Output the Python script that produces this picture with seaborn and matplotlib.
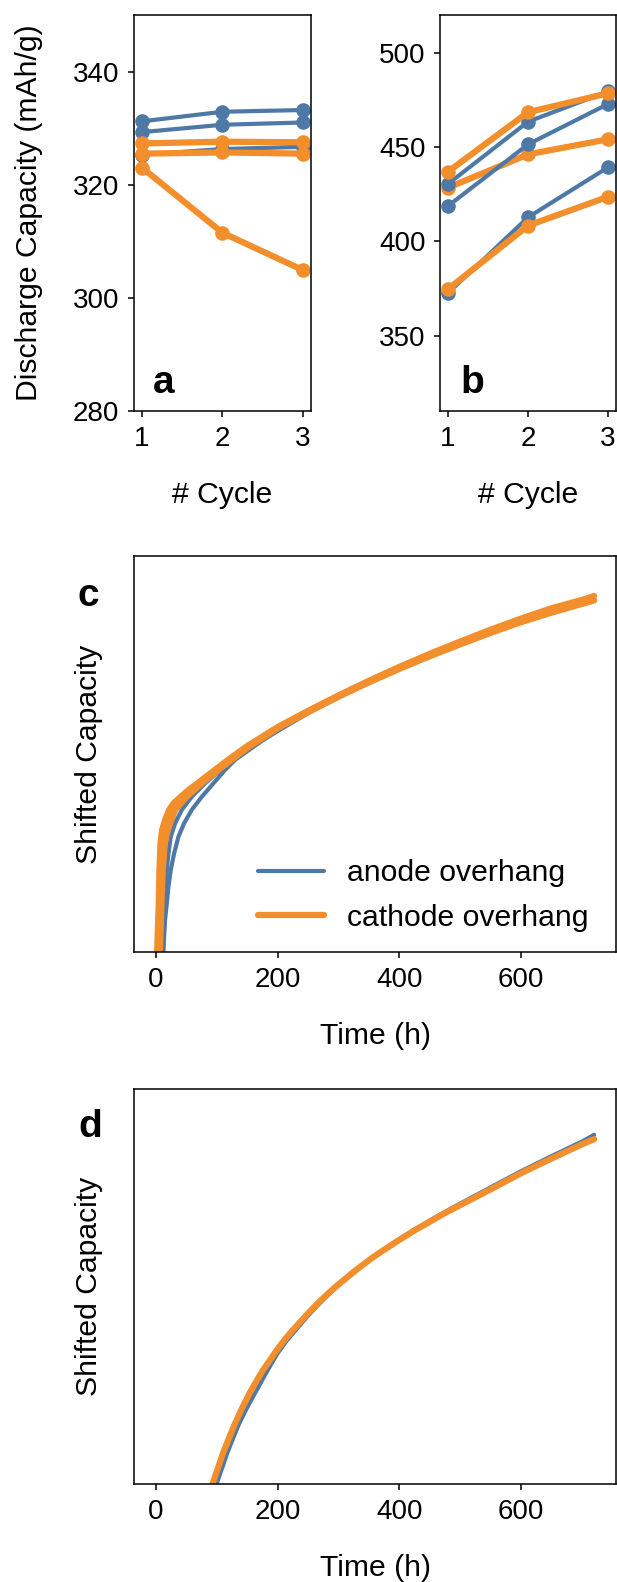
import matplotlib
matplotlib.use("Agg")
import matplotlib.pyplot as plt
import seaborn as sns

# ---- data -------------------------------------------------------------
cycles = [1, 2, 3]

# panel a: discharge capacity (mAh/g) per cell
a_anode = [[331.2, 332.9, 333.2], [329.3, 330.6, 331.0], [325.3, 326.3, 326.7]]
a_cathode = [[327.3, 327.6, 327.5], [325.5, 325.7, 325.5], [323.0, 311.5, 304.9]]

# panel b
b_anode = [[430.4, 463.4, 479.5], [418.7, 451.4, 472.8], [372.5, 412.7, 439.2]]
b_cathode = [[436.9, 468.4, 478.5], [428.4, 446.1, 454.1], [374.6, 408.3, 423.6]]

# panel c: shifted capacity vs time (h)
c_t_an1 = [8.6, 11.3, 14.0, 16.8, 20.6, 24.4, 31.6, 42.5, 58.9, 80.9, 100, 120, 150, 200,
           250, 300, 350, 400, 450, 500, 550, 600, 650, 700, 720]
c_q_an1 = [0.0, 0.081, 0.140, 0.190, 0.249, 0.291, 0.325, 0.359, 0.392, 0.426, 0.452, 0.478,
           0.511, 0.562, 0.606, 0.646, 0.683, 0.717, 0.750, 0.780, 0.810, 0.837, 0.862, 0.884, 0.892]
c_t_an2 = [12.4, 13.5, 15.1, 17.9, 20.6, 24.4, 29.9, 37.0, 46.3, 58.9, 75.4, 94.5, 113.7, 130,
           150, 175, 200, 250, 300, 350, 400, 450, 500, 550, 600, 650, 700, 720]
c_q_an2 = [0.0, 0.039, 0.081, 0.123, 0.165, 0.207, 0.249, 0.291, 0.325, 0.359, 0.392, 0.426,
           0.460, 0.485, 0.507, 0.534, 0.558, 0.603, 0.643, 0.680, 0.714, 0.746, 0.776, 0.805,
           0.832, 0.856, 0.878, 0.887]
c_t_cat1 = [2.0, 4.7, 5.8, 7.5, 10.2, 15.1, 21.7, 28.8, 40.9, 53.5, 68.3, 82.5, 97.3, 120,
            150, 200, 250, 300, 350, 400, 450, 500, 550, 600, 650, 700, 720]
c_q_cat1 = [0.0, 0.123, 0.207, 0.274, 0.308, 0.333, 0.359, 0.375, 0.392, 0.409, 0.426, 0.443,
            0.460, 0.487, 0.520, 0.568, 0.609, 0.648, 0.685, 0.720, 0.753, 0.784, 0.814, 0.842,
            0.868, 0.889, 0.899]
c_t_cat2 = [6.4, 9.1, 11.3, 14.0, 17.9, 23.3, 31.6, 50.7, 75.4, 102.8, 150, 200, 250, 300,
            350, 400, 450, 500, 550, 600, 650, 700, 720]
c_q_cat2 = [0.0, 0.123, 0.207, 0.266, 0.300, 0.325, 0.359, 0.392, 0.426, 0.460, 0.515, 0.565,
            0.606, 0.645, 0.681, 0.715, 0.747, 0.777, 0.806, 0.833, 0.857, 0.879, 0.888]

# panel d
d_t_an = [99.7, 105, 111, 116, 122, 129, 136, 148, 160, 170, 180, 190, 200, 215, 231, 250, 265,
          280, 295, 310, 325, 341, 355, 370, 385, 400, 425, 450, 475, 500, 550, 600, 650, 700, 720]
d_q_an = [0.0, 0.024, 0.050, 0.073, 0.097, 0.124, 0.150, 0.188, 0.222, 0.250, 0.278, 0.305,
          0.331, 0.363, 0.392, 0.426, 0.451, 0.474, 0.496, 0.516, 0.536, 0.556, 0.573, 0.589,
          0.605, 0.620, 0.644, 0.667, 0.689, 0.710, 0.751, 0.792, 0.830, 0.867, 0.884]
d_t_cat = [93, 99, 105, 110, 116, 123, 130, 142, 154, 165, 175, 188, 200, 215, 231, 250, 265,
           280, 295, 310, 325, 341, 355, 370, 385, 400, 425, 450, 475, 500, 550, 600, 650, 700, 720]
d_q_cat = [0.0, 0.027, 0.054, 0.077, 0.100, 0.127, 0.153, 0.193, 0.230, 0.260, 0.286, 0.315,
           0.342, 0.372, 0.400, 0.432, 0.456, 0.478, 0.499, 0.518, 0.537, 0.556, 0.572, 0.588,
           0.603, 0.618, 0.642, 0.664, 0.686, 0.706, 0.746, 0.787, 0.824, 0.860, 0.873]

legend_labels = ["anode overhang", "cathode overhang"]

# ---- style ------------------------------------------------------------
sns.set_style("ticks")
plt.rcParams['font.family'] = ['Liberation Sans', 'DejaVu Sans']
plt.rcParams.update({
    "font.size": 21.7,
    "axes.labelsize": 21.7,
    "xtick.labelsize": 20,
    "ytick.labelsize": 20,
    "axes.linewidth": 1.1,
    "axes.edgecolor": "black",
    "axes.labelcolor": "black",
    "text.color": "black",
    "xtick.major.size": 4.5,
    "ytick.major.size": 4.5,
    "xtick.major.width": 1.1,
    "ytick.major.width": 1.1,
    "xtick.major.pad": 6,
    "ytick.major.pad": 6,
    "xtick.color": "black",
    "ytick.color": "black",
})

BLUE = "#4e79a7"
ORANGE = "#f28e2b"
LW_AN, LW_CAT = 3.0, 4.5

W, H = 617, 1582
fig = plt.figure(figsize=(W / 100, H / 100), dpi=100)


def px_axes(l, t, r, b):
    return fig.add_axes([l / W, 1 - b / H, (r - l) / W, (b - t) / H])


ax_a = px_axes(134, 15, 311, 411)
ax_b = px_axes(440, 15, 616, 411)
ax_c = px_axes(134, 556, 616, 952)
ax_d = px_axes(134, 1089, 616, 1484)


def cyc_line(ax, vals, color, lw):
    sns.lineplot(x=cycles, y=vals, color=color, lw=lw, marker="o", markersize=10.5,
                 markeredgewidth=0, estimator=None, ax=ax)


# panel a: orange drawn above blue
for vals in a_anode:
    cyc_line(ax_a, vals, BLUE, LW_AN)
for vals in a_cathode:
    cyc_line(ax_a, vals, ORANGE, LW_CAT)

# panel b: cells interleaved
cyc_line(ax_b, b_anode[2], BLUE, LW_AN)
cyc_line(ax_b, b_cathode[2], ORANGE, LW_CAT)
cyc_line(ax_b, b_cathode[1], ORANGE, LW_CAT)
cyc_line(ax_b, b_anode[1], BLUE, LW_AN)
cyc_line(ax_b, b_anode[0], BLUE, LW_AN)
cyc_line(ax_b, b_cathode[0], ORANGE, LW_CAT)

for ax, lim, ticks in [(ax_a, (280, 350), [280, 300, 320, 340]),
                       (ax_b, (310, 520), [350, 400, 450, 500])]:
    ax.set_xlim(0.9, 3.1)
    ax.set_ylim(*lim)
    ax.set_xticks(cycles)
    ax.set_yticks(ticks)
    ax.set_xlabel("# Cycle")
    ax.xaxis.set_label_coords(0.5, -0.178)

ax_a.set_ylabel("Discharge Capacity (mAh/g)")
ax_a.yaxis.set_label_coords(-0.516, 0.5)

# panel c
sns.lineplot(x=c_t_an1, y=c_q_an1, color=BLUE, lw=LW_AN, estimator=None, ax=ax_c,
             label=legend_labels[0])
sns.lineplot(x=c_t_an2, y=c_q_an2, color=BLUE, lw=LW_AN, estimator=None, ax=ax_c)
sns.lineplot(x=c_t_cat2, y=c_q_cat2, color=ORANGE, lw=LW_CAT, estimator=None, ax=ax_c)
sns.lineplot(x=c_t_cat1, y=c_q_cat1, color=ORANGE, lw=LW_CAT, estimator=None, ax=ax_c,
             label=legend_labels[1])
ax_c.legend(loc="lower right", bbox_to_anchor=(0.967, 0.02), borderaxespad=0,
            frameon=False, handlelength=2.2, handletextpad=0.75, labelspacing=0.56,
            fontsize=21.7)

# panel d
sns.lineplot(x=d_t_an, y=d_q_an, color=BLUE, lw=LW_AN, estimator=None, ax=ax_d)
sns.lineplot(x=d_t_cat, y=d_q_cat, color=ORANGE, lw=LW_CAT, estimator=None, ax=ax_d)

for ax in (ax_c, ax_d):
    ax.set_xlim(-36, 756)
    ax.set_ylim(0, 1)
    ax.set_xticks([0, 200, 400, 600])
    ax.set_yticks([])
    ax.set_xlabel("Time (h)")
    ax.set_ylabel("Shifted Capacity")
    ax.xaxis.set_label_coords(0.5, -0.178)
    ax.yaxis.set_label_coords(-0.065, 0.5)

# panel letters
for s, x, y in [("a", 153, 393), ("b", 460, 393), ("c", 78, 606), ("d", 78, 1137)]:
    fig.text(x / W, 1 - y / H, s, fontsize=28, fontweight="bold", va="baseline", ha="left")

fig.savefig("out.png", dpi=100)
